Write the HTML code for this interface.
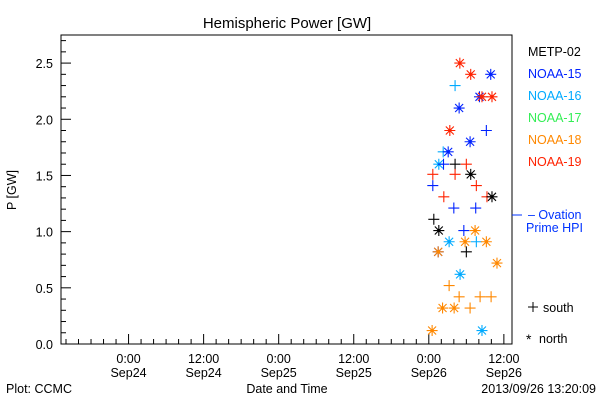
<!DOCTYPE html>
<html><head><meta charset="utf-8"><style>
body{margin:0;background:#fff}
svg{display:block;font-family:"Liberation Sans","DejaVu Sans",sans-serif}
text{font-size:12.5px}
</style></head><body>
<svg id="chart" width="600" height="400">
<text x="287" y="28" text-anchor="middle" style="font-size:15px">Hemispheric Power [GW]</text>
<rect x="61" y="35" width="451" height="309" fill="none" stroke="#000"/>
<g id="axes"></g>
<g id="marks"></g>
<text x="0" y="0" transform="translate(16,190) rotate(-90)" text-anchor="middle">P [GW]</text>
<text x="287" y="393" text-anchor="middle">Date and Time</text>
<text x="6" y="393">Plot: CCMC</text>
<text x="596" y="393" text-anchor="end">2013/09/26 13:20:09</text>
<g>
<text x="528" y="56" fill="#000">METP-02</text>
<text x="528" y="78" fill="#0022ff">NOAA-15</text>
<text x="528" y="100" fill="#00aaff">NOAA-16</text>
<text x="528" y="122" fill="#33ee55">NOAA-17</text>
<text x="528" y="144" fill="#ff8800">NOAA-18</text>
<text x="528" y="166" fill="#ff2200">NOAA-19</text>
<path d="M528 307h10M533 302v10" stroke="#000"/>
<text x="543" y="312">south</text>
<text x="526" y="344" style="font-size:14px">*</text>
<text x="539" y="343">north</text>
</g>
<g>
<path d="M512 215h10" stroke="#0033ff"/>
<text x="528" y="219" fill="#0033ff">– Ovation</text>
<text x="526" y="232" fill="#0033ff">Prime HPI</text>
</g>
</svg>
<script>
// hours relative to 2013-09-26 00:00
const seriesColors = {M:'#000',N15:'#0022ff',N16:'#00aaff',N18:'#ff8800',N19:'#ff2200'};
const pointHours = [4.96,6.7,9.9,4.2,8.1,8.5,10.1,4.85,3.36,9.2,6.6,2.3,3.1,1.6,2.35,4.2,6.0,0.64,4.2,6.7,0.64,7.6,2.4,9.3,10.1,4.0,7.5,0.8,1.6,5.6,7.4,3.25,5.8,7.6,9.2,1.5,1.5,6.0,10.9,5.0,3.25,4.85,8.2,9.96,2.2,4.05,6.6,0.53,8.5];
const pointPower = [2.5,2.4,2.4,2.3,2.2,2.2,2.2,2.1,1.9,1.9,1.8,1.71,1.71,1.6,1.6,1.6,1.6,1.51,1.51,1.51,1.41,1.41,1.31,1.31,1.31,1.21,1.21,1.11,1.01,1.01,1.01,0.91,0.91,0.91,0.91,0.82,0.82,0.82,0.72,0.62,0.52,0.42,0.42,0.42,0.32,0.32,0.32,0.12,0.12];
const pointSat = ['N19','N19','N15','N16','N15','N19','N19','N15','N19','N15','N15','N16','N15','N16','N15','M','N19','N19','N19','M','N15','N19','N19','N19','M','N15','N15','M','M','N15','N18','N16','N18','N16','N18','N15','N18','M','N18','N16','N18','N18','N18','N18','N18','N18','N18','N18','N16'];
const pointHemi = ['n','n','n','s','n','n','n','n','n','s','n','s','n','n','s','s','s','s','s','n','s','s','s','s','n','s','s','s','n','s','n','n','n','s','n','n','n','s','n','n','s','s','s','s','n','n','s','n','n'];
const yTicks = [0,0.5,1.0,1.5,2.0,2.5];
const yTickLabels = ['0.0','0.5','1.0','1.5','2.0','2.5'];
const xTicks = [-48,-36,-24,-12,0,12];
const xTickTime = ['0:00','12:00','0:00','12:00','0:00','12:00'];
const xTickDate = ['Sep24','Sep24','Sep25','Sep25','Sep26','Sep26'];

const NS='http://www.w3.org/2000/svg';
const X0=61,X1=512,Y0=344,Y1=35,hMin=-58.8,hMax=13.3,pMax=2.75;
const xs=h=>X0+(h-hMin)/(hMax-hMin)*(X1-X0);
const ys=p=>Y0-p/pMax*(Y0-Y1);
const axes=document.getElementById('axes'),marks=document.getElementById('marks');
function mk(tag,attrs,parent){const e=document.createElementNS(NS,tag);for(const k in attrs)e.setAttribute(k,attrs[k]);parent.appendChild(e);return e;}
for(let v=0;v<=2.75+1e-6;v+=0.1){const y=ys(v);const major=Math.abs(v*2-Math.round(v*2))<1e-6;
 const t=mk('line',{x1:X0,x2:X0+(major?10:5),y1:y,y2:y,stroke:'#000'},axes);
 
 }
yTicks.forEach((v,i)=>{const t=mk('text',{x:X0-8,y:ys(v)+5,'text-anchor':'end'},axes);t.textContent=yTickLabels[i];
 
 });
for(let h=-58;h<=13;h+=2){const x=xs(h);const major=h%12===0;
 const t=mk('line',{x1:x,x2:x,y1:Y0,y2:Y0-(major?10:5),stroke:'#000'},axes);
 
 }
xTicks.forEach((h,i)=>{const x=xs(h);
 const a=mk('text',{x:x,y:363,'text-anchor':'middle'},axes);a.textContent=xTickTime[i];
 
 
 const b=mk('text',{x:x,y:377,'text-anchor':'middle'},axes);b.textContent=xTickDate[i];
 
 });
pointHours.forEach((h,i)=>{const x=xs(h),y=ys(pointPower[i]),c=seriesColors[pointSat[i]];
 let d='M'+(x-5.5)+' '+y+'h11M'+x+' '+(y-5.5)+'v11';
 if(pointHemi[i]==='n')d+='M'+(x-4)+' '+(y-4)+'l8 8M'+(x-4)+' '+(y+4)+'l8 -8';
 const p=mk('path',{d:d,stroke:c,'stroke-width':1.1,fill:'none'},marks);
 
 
 if(pointHemi[i]==='n'){const dot=mk('circle',{cx:x,cy:y,r:1.7,fill:c},marks);
 
 }
});
</script>
</body></html>
